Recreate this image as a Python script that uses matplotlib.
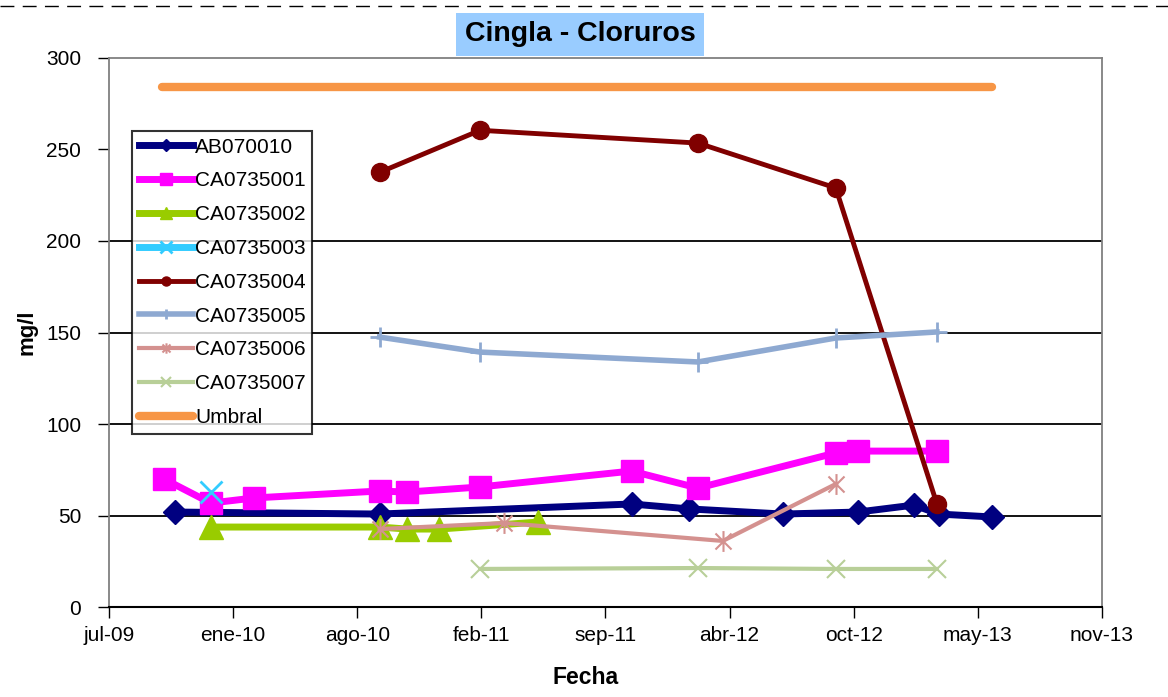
import pandas as pd
import matplotlib.pyplot as plt
from matplotlib.lines import Line2D
from matplotlib.path import Path

plt.rcParams['font.family'] = ['Liberation Sans', 'DejaVu Sans']

# data (mg/l)
ab070010_dates = ['2009-10-20', '2010-09-15', '2011-10-26', '2012-01-27', '2012-06-26',
                  '2012-10-25', '2013-01-23', '2013-03-04', '2013-05-29']
ab070010_vals = [51.9, 50.8, 56.3, 53.6, 50.8, 51.9, 55.7, 50.8, 49.2]

ca001_dates = ['2009-10-03', '2009-12-17', '2010-02-25', '2010-09-15', '2010-10-29',
               '2011-02-24', '2011-10-26', '2012-02-10', '2012-09-19', '2012-10-25',
               '2013-03-01']
ca001_vals = [69.9, 56.8, 59.6, 63.4, 62.8, 65.6, 74.3, 65.0, 84.2, 85.2, 85.2]

ca002_dates = ['2009-12-17', '2010-09-15', '2010-10-29', '2010-12-20', '2011-05-28']
ca002_vals = [43.7, 43.7, 42.6, 42.6, 46.4]

ca003_dates = ['2009-12-17']
ca003_vals = [62.8]

ca004_dates = ['2010-09-15', '2011-02-24', '2012-02-10', '2012-09-19', '2013-03-01']
ca004_vals = [237.5, 260.5, 253.5, 229.0, 56.3]

ca005_dates = ['2010-09-15', '2011-02-24', '2012-02-10', '2012-09-19', '2013-03-01']
ca005_vals = [147.5, 139.3, 133.9, 147.0, 150.3]

ca006_dates = ['2010-09-15', '2011-04-04', '2012-03-21', '2012-09-19']
ca006_vals = [42.6, 45.9, 36.1, 67.2]

ca007_dates = ['2011-02-24', '2012-02-10', '2012-09-19', '2013-03-01']
ca007_vals = [20.8, 21.3, 20.8, 20.8]

umbral_dates = ['2009-09-29', '2013-05-28']
umbral_vals = [284, 284]

tick_dates = ['2009-07-06', '2010-01-22', '2010-08-10', '2011-02-26', '2011-09-14',
              '2012-04-01', '2012-10-18', '2013-05-06', '2013-11-22']
tick_labels = ['jul-09', 'ene-10', 'ago-10', 'feb-11', 'sep-11',
               'abr-12', 'oct-12', 'may-13', 'nov-13']
grid_vals = [50, 100, 150, 200]

# excel-like asterisk marker (x plus vertical bar)
star = Path([(-1, -1), (1, 1), (-1, 1), (1, -1), (0, -1.3), (0, 1.3)],
            [Path.MOVETO, Path.LINETO] * 3)

series = [
    ('AB070010', ab070010_dates, ab070010_vals,
     dict(color='#000080', lw=5, marker='D', ms=12, mec='#000080')),
    ('CA0735001', ca001_dates, ca001_vals,
     dict(color='#FF00FF', lw=5, marker='s', ms=16, mec='#FF00FF')),
    ('CA0735002', ca002_dates, ca002_vals,
     dict(color='#99CC00', lw=5, marker='^', ms=17, mec='#99CC00')),
    ('CA0735003', ca003_dates, ca003_vals,
     dict(color='#33CCFF', lw=5, marker='x', ms=16, mew=2)),
    ('CA0735004', ca004_dates, ca004_vals,
     dict(color='#800000', lw=3.5, marker='o', ms=13)),
    ('CA0735005', ca005_dates, ca005_vals,
     dict(color='#8EA9D1', lw=4, marker='+', ms=15, mew=2)),
    ('CA0735006', ca006_dates, ca006_vals,
     dict(color='#D4918F', lw=3, marker=star, ms=15, mew=1.5)),
    ('CA0735007', ca007_dates, ca007_vals,
     dict(color='#B8CF98', lw=3, marker='x', ms=13, mew=1.5)),
    ('Umbral', umbral_dates, umbral_vals,
     dict(color='#F79646', lw=6, solid_capstyle='round')),
]

fig = plt.figure(figsize=(11.68, 6.97), dpi=100)
ax = fig.add_axes([0.0933, 0.1291, 0.8502, 0.7877])

for y in grid_vals:
    ax.axhline(y, color='k', lw=1.3, zorder=1)

for name, d, v, st in series:
    ax.plot(pd.to_datetime(d), v, label=name, zorder=3, **st)

ax.set_xlim(pd.Timestamp(tick_dates[0]), pd.Timestamp(tick_dates[-1]))
ax.set_ylim(0, 300)
ax.set_xticks(pd.to_datetime(tick_dates))
ax.set_xticklabels(tick_labels)
ax.set_yticks([0, 50, 100, 150, 200, 250, 300])
ax.tick_params(axis='both', labelsize=15, length=8, width=1, direction='out')
ax.tick_params(axis='y', pad=12)
ax.tick_params(axis='x', pad=6)
for s in ['left', 'top', 'right']:
    ax.spines[s].set_color('#808080')
    ax.spines[s].set_linewidth(1.3)
ax.spines['bottom'].set_color('k')
ax.spines['bottom'].set_linewidth(1.5)

ax.set_xlabel('Fecha', fontsize=16.5, weight='bold')
ax.set_ylabel('mg/l', fontsize=16, weight='bold')
ax.xaxis.set_label_coords(0.48, -0.108)
ax.yaxis.set_label_coords(-0.072, 0.5)

leg = ax.legend(loc='upper left', bbox_to_anchor=(0.0232, 0.867), borderaxespad=0,
                fontsize=15, frameon=True, fancybox=False, markerscale=0.5,
                handlelength=2.6, handletextpad=0.1, labelspacing=0.71,
                borderpad=0.32)
leg.get_frame().set_edgecolor('k')
leg.get_frame().set_linewidth(1.5)
leg.set_zorder(5)

fig.text(0.4966, 0.951, 'Cingla - Cloruros', fontsize=20.5, weight='bold',
         ha='center', va='center',
         bbox=dict(boxstyle='square,pad=0.3', facecolor='#99CCFF', edgecolor='none'))

# dashed frame line along the top
fig.add_artist(Line2D([0, 1], [0.991, 0.991], transform=fig.transFigure,
                      color='k', lw=1, dashes=(10, 6)))

fig.savefig('out.png', dpi=100)
